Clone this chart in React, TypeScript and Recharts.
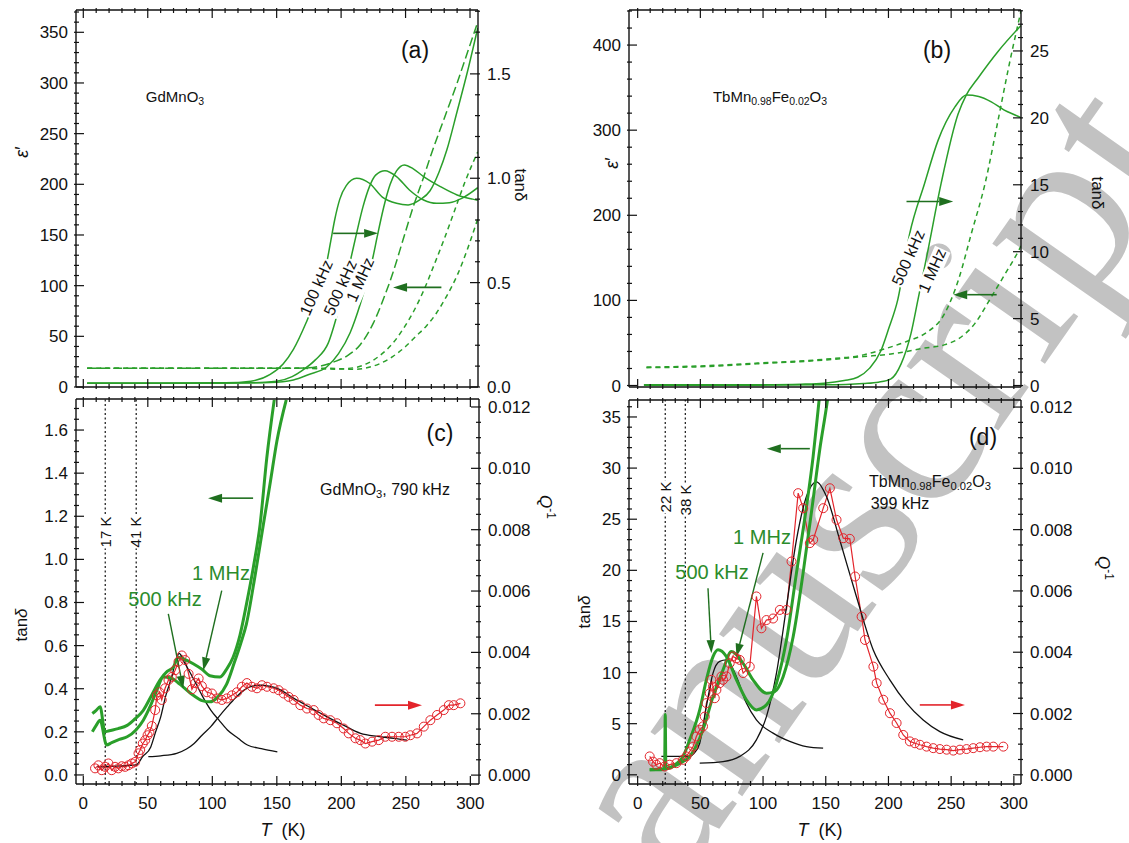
import React from "react";
import { ComposedChart, Line, XAxis, YAxis, ReferenceLine } from "recharts";

const W = 1129;
const H = 843;
const FONT = '"Liberation Sans", Arial, sans-serif';
const GREEN = "#2a9f2a";
const GREEN_DK = "#1f6f1f";
const GREEN_TXT = "#2b8c2b";
const RED = "#e3242b";

// ---------- (a) GdMnO3: tan delta (solid, right axis) and eps' (dashed, left axis)
const A_T_S100 = [3, 60, 110, 130, 145, 155, 163, 173, 182, 188, 192, 195, 199, 204, 212, 222, 232, 243, 252, 261, 269, 276, 282, 290, 298, 306];
const A_TAN_S100 = [0.018, 0.018, 0.02, 0.028, 0.06, 0.11, 0.18, 0.31, 0.45, 0.57, 0.7, 0.8, 0.9, 0.965, 1.0, 0.976, 0.91, 0.88, 0.872, 0.896, 0.94, 1.03, 1.135, 1.32, 1.51, 1.72];
const A_T_S500 = [3, 80, 130, 150, 162, 170, 180, 190, 198, 207, 212, 217, 222, 227, 234, 243, 253, 264, 274, 284, 294, 306];
const A_TAN_S500 = [0.018, 0.018, 0.02, 0.028, 0.05, 0.08, 0.13, 0.21, 0.37, 0.6, 0.736, 0.864, 0.96, 1.016, 1.036, 1.008, 0.944, 0.896, 0.88, 0.883, 0.905, 0.955];
const A_T_S1M = [3, 100, 145, 163, 175, 189, 198, 207, 215, 221, 225, 228, 233, 238, 243, 249, 256, 264, 277, 290, 302, 306];
const A_TAN_S1M = [0.018, 0.018, 0.022, 0.034, 0.06, 0.097, 0.16, 0.26, 0.4, 0.53, 0.63, 0.72, 0.86, 0.97, 1.035, 1.064, 1.045, 1.008, 0.96, 0.92, 0.9, 0.895];
const A_T_D100 = [3, 150, 175, 185, 195, 205, 215, 225, 232.6, 240, 248, 256, 264, 270, 280, 290, 298, 306];
const A_EPS_D100 = [18.4, 18.4, 19, 21, 25, 31, 42, 63, 86, 112, 145, 178, 207, 230, 265, 300, 330, 360];
const A_T_D500 = [3, 170, 195, 210, 220, 230, 240, 248, 256, 264, 272, 280, 288, 296, 306];
const A_EPS_D500 = [18.4, 18.4, 17.6, 19, 23, 31, 43, 57, 74, 95, 120, 146, 174, 202, 232];
const A_T_D1M = [3, 190, 210, 220, 230, 240, 250, 258, 266, 274, 282, 290, 298, 306];
const A_EPS_D1M = [18.4, 18.4, 17.4, 19, 23, 30, 40, 50, 60, 73, 90, 110, 136, 166];

// ---------- (b) TbMn0.98Fe0.02O3
const B_T_S500 = [5, 60, 100, 130, 148.6, 164.7, 175.4, 185, 194, 200, 207.4, 216.8, 228.8, 239.5, 252.9, 262.2, 272, 282, 292, 303.7, 305.7];
const B_TAN_S500 = [0.05, 0.05, 0.06, 0.1, 0.17, 0.37, 0.62, 1.3, 2.6, 4.2, 6.4, 11.3, 15.1, 18.3, 20.8, 21.7, 21.6, 21.2, 20.6, 20.1, 20.0];
const B_T_S1M = [5, 100, 150, 180, 192, 202, 210, 218, 223.5, 231.5, 242, 255.6, 262, 271.6, 287.7, 303.7, 305.7];
const B_TAN_S1M = [0.03, 0.03, 0.05, 0.15, 0.25, 0.5, 1.6, 3.9, 6.4, 10.1, 15.1, 20.3, 21.7, 23.0, 25.0, 26.7, 26.9];
const B_T_D500 = [7, 50, 95, 150, 180, 197, 215, 229, 245, 256, 266, 277, 288, 296, 304, 305.7];
const B_EPS_D500 = [21.6, 23, 26.3, 31, 36, 43, 52, 61, 85, 125, 178, 237, 316, 375, 429, 440];
const B_T_D1M = [7, 50, 95, 150, 180, 202, 229, 245, 256, 269, 282, 293, 304, 305.7];
const B_EPS_D1M = [21, 22, 25.5, 30, 34, 37, 44, 48, 55, 73, 104, 131, 159, 164];

// ---------- (c) GdMnO3, 790 kHz
const C_T_G1M = [7, 10, 13, 16.8, 20, 27, 34, 40, 46.5, 53, 59.4, 65, 69.8, 73.6, 79, 85.2, 92, 98.1, 105.8, 111, 116.1, 121.5, 126.4, 132, 137, 142.2, 148];
const C_TAN_G1M = [0.285, 0.3, 0.316, 0.2, 0.205, 0.215, 0.23, 0.26, 0.3, 0.37, 0.44, 0.48, 0.5, 0.546, 0.535, 0.516, 0.49, 0.46, 0.454, 0.49, 0.546, 0.65, 0.79, 0.97, 1.16, 1.47, 1.74];
const C_T_G500 = [7, 10, 13, 18.1, 22, 28, 34, 41, 46.5, 52, 56.8, 62, 68, 75, 85.2, 92, 98.1, 104, 111, 117, 122, 126.4, 133, 139.6, 145, 150, 157.3];
const C_TAN_G500 = [0.2, 0.23, 0.254, 0.139, 0.15, 0.165, 0.177, 0.21, 0.254, 0.32, 0.39, 0.454, 0.45, 0.42, 0.37, 0.345, 0.339, 0.36, 0.42, 0.52, 0.61, 0.7, 0.92, 1.163, 1.36, 1.547, 1.74];
const C_T_K1 = [11, 20, 30, 40.8, 46, 52.3, 56, 60, 64, 67.8, 71, 74.3, 78, 82, 85.9, 92, 98.8, 105, 111.7, 120, 127.2, 138, 150.4];
const C_Q_K1 = [0.00027, 0.00028, 0.0003, 0.00033, 0.0006, 0.00092, 0.0014, 0.0019, 0.0026, 0.0031, 0.0036, 0.00397, 0.0037, 0.0034, 0.0031, 0.0026, 0.00212, 0.0018, 0.00147, 0.0012, 0.00098, 0.00086, 0.00076];
const C_T_K2 = [50.4, 60, 72.4, 80, 85.9, 92, 98.8, 105, 111.7, 118, 124.6, 131, 137.5, 144, 150.4, 163.3, 176, 189, 202, 214.9, 228, 240.7, 251];
const C_Q_K2 = [0.0006, 0.00063, 0.00071, 0.00085, 0.00103, 0.0013, 0.00158, 0.0019, 0.00223, 0.00252, 0.00277, 0.0029, 0.00293, 0.0029, 0.00283, 0.0025, 0.0022, 0.0019, 0.00162, 0.00136, 0.00126, 0.0012, 0.00114];
const C_T_RED = [9.1, 11.7, 14.3, 16.9, 19.5, 22, 24.6, 27.2, 29.8, 32.4, 35, 37.6, 40.2, 42.8, 44.1, 46.1, 48, 49.8, 51.3, 53.1, 55.7, 57, 59, 60.8, 63.4, 66, 68.6, 71.2, 73.8, 76.4, 79, 81.6, 84.2, 86.8, 89.4, 91.9, 95.8, 99.7, 103.6, 107.4, 111.3, 115.2, 119.1, 122.9, 126.8, 130.7, 134.6, 138.5, 142.4, 147.5, 151.4, 155.3, 159.2, 163.1, 168.2, 173.4, 178.6, 182.4, 186.3, 191.5, 196.6, 201.8, 205.7, 210.9, 214.7, 218.6, 223.8, 229, 234.1, 239.3, 244.5, 249.6, 253.5, 258.7, 263.9, 269, 274.2, 279.4, 283.3, 287.1, 292.3];
const C_Q_RED = [0.00022, 0.00032, 0.00016, 0.00027, 0.00038, 0.00016, 0.00027, 0.00022, 0.00029, 0.00027, 0.00032, 0.00038, 0.00043, 0.00071, 0.00082, 0.00103, 0.00114, 0.0013, 0.0014, 0.0016, 0.00212, 0.0026, 0.0027, 0.00245, 0.00283, 0.0031, 0.0032, 0.00342, 0.0037, 0.0039, 0.00375, 0.0033, 0.0028, 0.003, 0.00315, 0.0029, 0.0027, 0.00266, 0.0025, 0.00245, 0.0025, 0.0026, 0.0027, 0.00288, 0.003, 0.00288, 0.00283, 0.00293, 0.00288, 0.00283, 0.00277, 0.00266, 0.00255, 0.00245, 0.00228, 0.00217, 0.00212, 0.00196, 0.00185, 0.00179, 0.00169, 0.00152, 0.00136, 0.0012, 0.00114, 0.00103, 0.00109, 0.00114, 0.00125, 0.00125, 0.00125, 0.00125, 0.0013, 0.00136, 0.00158, 0.00179, 0.00196, 0.00212, 0.00228, 0.00228, 0.00234];

// ---------- (d) TbMn0.98Fe0.02O3, 399 kHz
const D_T_G500 = [9.6, 15, 18.9, 21.5, 22, 22.5, 25.5, 30, 36.2, 41.5, 49.5, 54.8, 60.1, 64.1, 70.8, 78.8, 86.7, 94.7, 102.7, 110.7, 118.7, 126.6, 134.6, 139.9, 143.9, 145];
const D_TAN_G500 = [0.49, 0.49, 0.5, 0.6, 5.9, 0.6, 0.65, 1.0, 1.79, 3.42, 6.35, 9.29, 11.56, 12.22, 11.56, 9.29, 7.33, 6.35, 6.84, 8.96, 13.2, 19.7, 26.2, 31.1, 35.7, 37];
const D_T_G1M = [9.6, 18, 28.2, 35, 41.5, 52.1, 60.1, 68.1, 74.8, 84.1, 92, 102.7, 109.3, 116, 124, 131.9, 139.9, 145.2, 150.6, 152];
const D_TAN_G1M = [0.49, 0.55, 0.81, 1.2, 1.79, 4.4, 7.65, 10.26, 12.05, 10.9, 9.29, 7.98, 8.14, 9.6, 13.5, 19.7, 26.9, 31.8, 36.0, 37.2];
const D_T_K1 = [18.9, 30, 41.5, 45, 49.5, 54.8, 60.1, 65.4, 70.8, 78.8, 86.7, 94.7, 108, 121.3, 134.6, 147.9];
const D_Q_K1 = [0.0006, 0.0006, 0.0006, 0.0007, 0.00103, 0.00223, 0.00332, 0.0037, 0.00375, 0.0032, 0.00234, 0.00179, 0.00136, 0.00109, 0.00092, 0.00087];
const D_T_K2 = [49.5, 68.1, 81.4, 94.7, 102.7, 110.7, 118.7, 126.6, 134.6, 142.6, 150.6, 161.2, 174.5, 187.8, 201.1, 214.4, 227.7, 241, 259.6];
const D_Q_K2 = [0.00038, 0.00043, 0.0006, 0.00114, 0.0019, 0.00332, 0.00549, 0.00766, 0.00908, 0.00956, 0.00908, 0.00766, 0.00581, 0.00408, 0.0031, 0.00234, 0.00179, 0.00141, 0.00114];
const D_T_RED = [9.6, 12.3, 14.9, 17.6, 21.5, 25.5, 30.9, 36.2, 38.9, 41.5, 44.2, 46.8, 49.5, 52.1, 53.5, 54.8, 57.5, 58.8, 60.1, 61.5, 62.8, 65.4, 66.8, 68.1, 70.8, 73.4, 76.1, 78.8, 81.4, 84.1, 89.4, 94.7, 98.7, 102.7, 108, 113.4, 118.7, 122.7, 128, 132, 137.3, 140, 148, 153.3, 158.6, 164, 169.2, 173.4, 178.6, 181.3, 188, 190.6, 195.9, 201.2, 206.5, 211.8, 217.1, 221.1, 225.1, 230.4, 235.7, 241, 246.4, 251.7, 257, 262.3, 267.6, 273, 278.3, 283.6, 291.6];
const D_Q_RED = [0.0006, 0.00043, 0.00033, 0.00038, 0.00027, 0.00033, 0.00038, 0.00049, 0.0006, 0.00076, 0.00092, 0.00125, 0.00147, 0.00158, 0.0019, 0.00234, 0.00266, 0.0031, 0.00288, 0.0025, 0.00277, 0.00299, 0.00321, 0.0031, 0.00321, 0.00364, 0.00386, 0.0038, 0.00375, 0.00332, 0.00353, 0.00582, 0.00478, 0.00505, 0.0051, 0.00538, 0.00538, 0.00696, 0.00919, 0.0087, 0.00756, 0.00767, 0.0087, 0.00935, 0.00832, 0.00772, 0.0077, 0.00647, 0.00516, 0.0044, 0.00353, 0.00299, 0.00245, 0.00201, 0.00169, 0.0013, 0.00109, 0.00103, 0.00098, 0.00092, 0.00087, 0.00084, 0.00082, 0.00079, 0.00082, 0.00084, 0.00087, 0.0009, 0.00092, 0.00092, 0.00092];

// tick helpers
const range = (a: number, b: number, s: number) => {
  const out: number[] = [];
  for (let i = 0; a + i * s <= b + 1e-9; i++) out.push(+(a + i * s).toFixed(6));
  return out;
};
const X_TICKS = range(0, 300, 10);
const X_MAJ = range(0, 300, 50);
const f0 = (v: number) => String(Math.round(v));
const f1 = (v: number) => v.toFixed(1);
const f3 = (v: number) => v.toFixed(3);

const pts = (ts: number[], vs: number[]) => ts.map((T, i) => ({ T, v: vs[i] }));

function mkTick(side: string, majors: number[], fmt: ((v: number) => string) | null) {
  return (p: any) => {
    const { x, y, payload } = p;
    const v = payload.value;
    const major = majors.some((m) => Math.abs(m - v) < 1e-9);
    const L = major ? 10 : 5;
    let ln = null;
    let lb = null;
    const tp = { fontFamily: FONT, fontSize: 17, fill: "#111" };
    if (side === "bottom") {
      ln = <line x1={x} y1={y} x2={x} y2={y - L} />;
      if (major && fmt) lb = <text x={x} y={y + 23} textAnchor="middle" {...tp}>{fmt(v)}</text>;
    } else if (side === "top") {
      ln = <line x1={x} y1={y} x2={x} y2={y + L} />;
    } else if (side === "left") {
      ln = <line x1={x} y1={y} x2={x + L} y2={y} />;
      if (major && fmt) lb = <text x={x - 6} y={y + 6} textAnchor="end" {...tp}>{fmt(v)}</text>;
    } else {
      ln = <line x1={x} y1={y} x2={x - L} y2={y} />;
      if (major && fmt) lb = <text x={x + 7} y={y + 6} textAnchor="start" {...tp}>{fmt(v)}</text>;
    }
    return (
      <g>
        <g stroke="#111" strokeWidth={1.2}>{ln}</g>
        {lb}
      </g>
    );
  };
}

const AXIS = { stroke: "#111", strokeWidth: 1.4 };

function Panel({ cfg, children }: any) {
  return (
    <div style={{ position: "absolute", left: 0, top: 0 }}>
      <ComposedChart width={W} height={H} margin={cfg.margin}>
        <XAxis xAxisId="b" type="number" dataKey="T" domain={cfg.xd} allowDataOverflow ticks={X_TICKS} interval={0} tickSize={0} tickLine={false} axisLine={AXIS} height={1} tick={mkTick("bottom", X_MAJ, cfg.xLab ? f0 : null)} />
        <XAxis xAxisId="t" orientation="top" type="number" dataKey="T" domain={cfg.xd} allowDataOverflow ticks={X_TICKS} interval={0} tickSize={0} tickLine={false} axisLine={AXIS} height={1} tick={mkTick("top", X_MAJ, null)} />
        <YAxis yAxisId="l" type="number" domain={cfg.yl} allowDataOverflow ticks={cfg.ylT} interval={0} tickSize={0} tickLine={false} axisLine={AXIS} width={1} tick={mkTick("left", cfg.ylM, cfg.fl)} />
        <YAxis yAxisId="r" orientation="right" type="number" domain={cfg.yr} allowDataOverflow ticks={cfg.yrT} interval={0} tickSize={0} tickLine={false} axisLine={AXIS} width={1} tick={mkTick("right", cfg.yrM, cfg.fr)} />
        {children}
      </ComposedChart>
    </div>
  );
}

function curve(key: string, ts: number[], vs: number[], axis: string, stroke: string, width: number, dash?: string) {
  return (
    <Line key={key} data={pts(ts, vs)} dataKey="v" xAxisId="b" yAxisId={axis} type="monotone" stroke={stroke} strokeWidth={width} strokeDasharray={dash} dot={false} activeDot={false} isAnimationActive={false} />
  );
}

function dataSeries(key: string, ts: number[], vs: number[]) {
  return (
    <Line key={key} data={pts(ts, vs)} dataKey="v" xAxisId="b" yAxisId="r" type="linear" stroke={RED} strokeWidth={1.2} dot={{ r: 4.5, fill: "none", stroke: RED, strokeWidth: 1 }} activeDot={false} isAnimationActive={false} />
  );
}

const arrowShape = (color: string, w: number, head: number) => (p: any) => {
  const { x1, y1, x2, y2 } = p;
  const a = Math.atan2(y2 - y1, x2 - x1);
  const bx = x2 - head * Math.cos(a);
  const by = y2 - head * Math.sin(a);
  const hw = head * 0.32;
  const nx = -Math.sin(a) * hw;
  const ny = Math.cos(a) * hw;
  return (
    <g>
      <line x1={x1} y1={y1} x2={bx} y2={by} stroke={color} strokeWidth={w} />
      <polygon points={`${x2},${y2} ${bx + nx},${by + ny} ${bx - nx},${by - ny}`} fill={color} />
    </g>
  );
};

function arrow(key: string, x1: number, y1: number, x2: number, y2: number, axis: string, color: string, w = 1.6, head = 14) {
  return <ReferenceLine key={key} xAxisId="b" yAxisId={axis} segment={[{ x: x1, y: y1 }, { x: x2, y: y2 }]} shape={arrowShape(color, w, head)} ifOverflow="visible" />;
}

function vline(key: string, x: number) {
  return <ReferenceLine key={key} xAxisId="b" yAxisId="l" x={x} stroke="#111" strokeWidth={1.2} strokeDasharray="2 2.5" />;
}

// margins leave the 1px axis bands just outside the plot frame
const CFG_A = { margin: { top: 9, right: 650, bottom: 455, left: 75 }, xd: [-5.66, 306.2], yl: [0, 372], yr: [0, 1.806], ylT: range(0, 370, 10), ylM: range(0, 350, 50), yrT: range(0, 1.8, 0.1), yrM: [0, 0.5, 1, 1.5], fl: f0, fr: f1, xLab: false };
const CFG_B = { margin: { top: 9, right: 107, bottom: 455, left: 628 }, xd: [-6.9, 305.7], yl: [-1.76, 441.2], yr: [-0.11, 28.06], ylT: range(0, 440, 20), ylM: range(0, 400, 100), yrT: range(0, 28, 1), yrM: range(0, 25, 5), fl: f0, fr: f0, xLab: false };
const CFG_C = { margin: { top: 398, right: 649, bottom: 58, left: 75 }, xd: [-5.66, 306.7], yl: [-0.042, 1.744], yr: [-0.00029, 0.01226], ylT: range(0, 1.7, 0.05), ylM: range(0, 1.6, 0.2), yrT: range(0, 0.012, 0.0005), yrM: range(0, 0.012, 0.002), fl: f1, fr: f3, xLab: true };
const CFG_D = { margin: { top: 399, right: 107, bottom: 58, left: 628 }, xd: [-6.9, 305.7], yl: [-0.9, 36.66], yr: [-0.0003, 0.01223], ylT: range(0, 36, 1), ylM: range(0, 35, 5), yrT: range(0, 0.012, 0.0005), yrM: range(0, 0.012, 0.002), fl: f0, fr: f3, xLab: true };

function Txt({ x, y, size = 16, rot = 0, color = "#111", bg, children }: any) {
  return (
    <div
      style={{
        position: "absolute",
        left: x,
        top: y,
        transform: `translate(-50%, -50%) rotate(${rot}deg)`,
        fontFamily: FONT,
        fontSize: size,
        color,
        whiteSpace: "nowrap",
        lineHeight: 1.05,
        background: bg,
        padding: bg ? "0 1px" : 0,
      }}
    >
      {children}
    </div>
  );
}

const sub = { fontSize: "0.7em", verticalAlign: "-0.3em", lineHeight: 0 } as const;
const sup = { fontSize: "0.7em", verticalAlign: "0.6em", lineHeight: 0 } as const;

export default function App() {
  return (
    <div style={{ position: "absolute", left: 0, top: 0, width: W, height: H, background: "#fff", overflow: "hidden" }}>
      <svg width={W} height={H} style={{ position: "absolute", left: 0, top: 0 }}>
        <text x={568} y={1045} transform="rotate(-55 568 1045)" fontFamily='"Liberation Serif", serif' fontSize={244} fill="#c2c2c2">
          manuscript
        </text>
      </svg>

      <Panel cfg={CFG_A}>
        {curve("d100", A_T_D100, A_EPS_D100, "l", GREEN, 1.5, "9 4")}
        {curve("d500", A_T_D500, A_EPS_D500, "l", GREEN, 1.5, "5 4")}
        {curve("d1m", A_T_D1M, A_EPS_D1M, "l", GREEN, 1.5, "5 4")}
        {curve("s100", A_T_S100, A_TAN_S100, "r", GREEN, 1.5)}
        {curve("s500", A_T_S500, A_TAN_S500, "r", GREEN, 1.5)}
        {curve("s1m", A_T_S1M, A_TAN_S1M, "r", GREEN, 1.5)}
        {arrow("ar1", 193.8, 0.736, 228.7, 0.736, "r", GREEN_DK)}
        {arrow("ar2", 277.8, 98.3, 240.3, 98.3, "l", GREEN_DK)}
      </Panel>

      <Panel cfg={CFG_B}>
        {curve("d500", B_T_D500, B_EPS_D500, "l", GREEN, 1.5, "5 4")}
        {curve("d1m", B_T_D1M, B_EPS_D1M, "l", GREEN, 1.5, "5 4")}
        {curve("s500", B_T_S500, B_TAN_S500, "r", GREEN, 1.5)}
        {curve("s1m", B_T_S1M, B_TAN_S1M, "r", GREEN, 1.5)}
        {arrow("ar1", 214.4, 13.75, 251.6, 13.75, "r", GREEN_DK)}
        {arrow("ar2", 286.3, 106.7, 251.6, 106.7, "l", GREEN_DK)}
      </Panel>

      <Panel cfg={CFG_C}>
        {vline("v17", 17)}
        {vline("v41", 41)}
        {dataSeries("red", C_T_RED, C_Q_RED)}
        {curve("k1", C_T_K1, C_Q_K1, "r", "#111", 1.3)}
        {curve("k2", C_T_K2, C_Q_K2, "r", "#111", 1.3)}
        {curve("g500", C_T_G500, C_TAN_G500, "l", GREEN, 3)}
        {curve("g1m", C_T_G1M, C_TAN_G1M, "l", GREEN, 3)}
        {arrow("ag", 131.6, 1.284, 96.7, 1.284, "l", GREEN_DK)}
        {arrow("ar", 226, 0.00228, 262.5, 0.00228, "r", RED)}
        {arrow("p1", 107.3, 0.855, 93, 0.485, "l", GREEN_DK, 1.4, 13)}
        {arrow("p2", 65.9, 0.747, 77.5, 0.4, "l", GREEN_DK, 1.4, 13)}
      </Panel>

      <Panel cfg={CFG_D}>
        {vline("v22", 22)}
        {vline("v38", 38)}
        {dataSeries("red", D_T_RED, D_Q_RED)}
        {curve("k1", D_T_K1, D_Q_K1, "r", "#111", 1.3)}
        {curve("k2", D_T_K2, D_Q_K2, "r", "#111", 1.3)}
        {curve("g500", D_T_G500, D_TAN_G500, "l", GREEN, 3)}
        {curve("g1m", D_T_G1M, D_TAN_G1M, "l", GREEN, 3)}
        {arrow("ag", 137.3, 31.9, 103, 31.9, "l", GREEN_DK)}
        {arrow("ar", 225, 0.00228, 261, 0.00228, "r", RED)}
        {arrow("p1", 100, 21.7, 78.8, 11.56, "l", GREEN_DK, 1.4, 13)}
        {arrow("p2", 56.1, 18.25, 58.8, 11.9, "l", GREEN_DK, 1.4, 13)}
      </Panel>

      {/* panel (a) texts */}
      <Txt x={415} y={50} size={23}>(a)</Txt>
      <Txt x={175} y={97} size={15}>GdMnO<span style={sub}>3</span></Txt>
      <Txt x={317} y={288} size={16} rot={-66} bg="#fff">100 kHz</Txt>
      <Txt x={341} y={288} size={16} rot={-66} bg="#fff">500 kHz</Txt>
      <Txt x={361} y={280} size={16} rot={-66} bg="#fff">1 MHz</Txt>
      <Txt x={22} y={152} size={18} rot={-90}><i>ε</i>′</Txt>
      <Txt x={520} y={185} size={17} rot={90}>tanδ</Txt>

      {/* panel (b) texts */}
      <Txt x={937} y={50} size={23}>(b)</Txt>
      <Txt x={770} y={97} size={15}>TbMn<span style={sub}>0.98</span>Fe<span style={sub}>0.02</span>O<span style={sub}>3</span></Txt>
      <Txt x={909} y={258} size={16} rot={-66} bg="#fff">500 kHz</Txt>
      <Txt x={933} y={271} size={16} rot={-66} bg="#fff">1 MHz</Txt>
      <Txt x={612} y={163} size={18} rot={-90}><i>ε</i>′</Txt>
      <Txt x={1097} y={193} size={17} rot={90}>tanδ</Txt>

      {/* panel (c) texts */}
      <Txt x={440} y={433} size={23}>(c)</Txt>
      <Txt x={385} y={490} size={16}>GdMnO<span style={sub}>3</span>, 790 kHz</Txt>
      <Txt x={221} y={573} size={20} color={GREEN_TXT}>1 MHz</Txt>
      <Txt x={165} y={599} size={20} color={GREEN_TXT}>500 kHz</Txt>
      <Txt x={106} y={532} size={15} rot={-90} bg="#fff">17 K</Txt>
      <Txt x={136} y={532} size={15} rot={-90} bg="#fff">41 K</Txt>
      <Txt x={22} y={625} size={17} rot={-90}>tan<i>δ</i></Txt>
      <Txt x={545} y={507} size={17} rot={90}><i>Q</i><span style={sup}>-1</span></Txt>
      <Txt x={283} y={830} size={18}><i>T</i>&nbsp;&nbsp;(K)</Txt>

      {/* panel (d) texts */}
      <Txt x={983} y={437} size={23}>(d)</Txt>
      <Txt x={930} y={482} size={16}>TbMn<span style={sub}>0.98</span>Fe<span style={sub}>0.02</span>O<span style={sub}>3</span></Txt>
      <Txt x={900} y={504} size={16}>399 kHz</Txt>
      <Txt x={762} y={537} size={20} color={GREEN_TXT}>1 MHz</Txt>
      <Txt x={712} y={572} size={20} color={GREEN_TXT}>500 kHz</Txt>
      <Txt x={666} y={497} size={15} rot={-90} bg="#fff">22 K</Txt>
      <Txt x={686} y={500} size={15} rot={-90} bg="#fff">38 K</Txt>
      <Txt x={585} y={612} size={17} rot={-90}>tan<i>δ</i></Txt>
      <Txt x={1103} y={568} size={17} rot={90}><i>Q</i><span style={sup}>-1</span></Txt>
      <Txt x={820} y={830} size={18}><i>T</i>&nbsp;&nbsp;(K)</Txt>
    </div>
  );
}
